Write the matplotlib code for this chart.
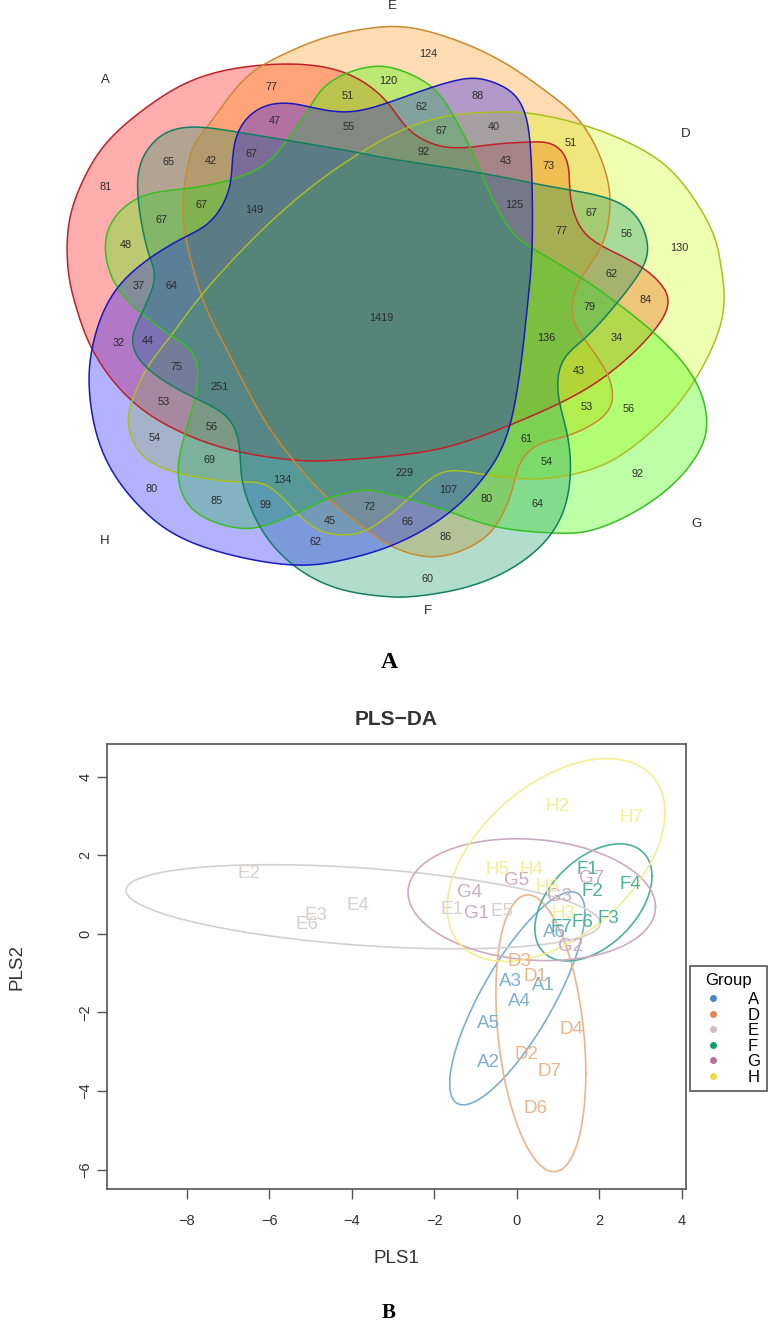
import numpy as np
import matplotlib
matplotlib.use('Agg')
import matplotlib.pyplot as plt
from matplotlib.path import Path
from matplotlib.patches import PathPatch
from matplotlib.lines import Line2D

plt.rcParams['font.family'] = ['Liberation Sans', 'DejaVu Sans']

# venn outlines (pixels)
outline_A = [(263,65),(343,72),(388,103),(407,128),(430,143),(457,148),(497,144),(530,142),(553,144),(567,160),(570,193),(580,227),(600,245),(643,268),(667,293),(668,307),(653,332),(607,375),(560,403),(510,425),(447,447),(380,457),(320,461),(293,460),(240,452),(185,434),(132,401),(92,349),(77,310),(70,283),(67,250),(70,217),(80,187),(103,147),(143,110),(193,80)]
outline_E = [(380,27),(413,28),(447,37),(480,50),(513,68),(547,92),(583,125),(607,177),(610,207),(602,245),(580,280),(572,303),(573,320),(585,340),(607,373),(613,395),(607,413),(567,436),(537,445),(520,463),(513,487),(495,527),(470,547),(433,557),(393,547),(367,530),(330,500),(293,460),(260,413),(227,350),(203,300),(185,233),(183,200),(193,147),(207,127),(237,87),(263,65),(293,50),(327,37)]
outline_D = [(497,112),(453,115),(407,128),(360,153),(287,207),(200,297),(170,337),(147,368),(132,401),(128,423),(140,453),(178,473),(242,482),(267,485),(297,513),(323,532),(347,535),(367,530),(408,499),(440,473),(463,471),(487,475),(513,478),(537,479),(570,475),(613,460),(653,430),(673,410),(695,380),(720,327),(724,290),(720,260),(713,233),(680,180),(643,150),(583,125),(527,113)]
outline_G = [(377,66),(347,73),(323,88),(310,107),(287,140),(267,163),(230,180),(183,189),(138,198),(107,233),(117,287),(150,320),(170,335),(193,353),(198,377),(195,398),(185,434),(178,473),(193,510),(237,528),(260,527),(297,513),(330,498),(363,490),(380,492),(408,499),(450,512),(497,527),(553,533),(593,530),(663,493),(700,450),(707,423),(695,380),(653,332),(617,303),(580,277),(532,248),(513,233),(493,200),(480,170),(470,147),(453,115),(432,87),(400,70)]
outline_F = [(197,127),(167,132),(143,157),(138,197),(150,258),(155,277),(140,317),(132,343),(147,368),(195,398),(230,420),(240,452),(242,480),(260,527),(293,565),(343,590),(393,597),(407,597),(480,583),(552,533),(570,480),(567,433),(558,393),(563,360),(583,340),(617,303),(643,267),(648,247),(637,217),(610,199),(570,190),(532,183),(480,173),(380,157),(360,153),(237,132)]
outline_H = [(472,78),(433,87),(387,103),(347,112),(310,107),(287,103),(260,108),(238,132),(232,167),(228,193),(210,222),(185,237),(150,258),(118,287),(100,320),(92,349),(89,383),(103,453),(143,510),(193,543),(293,565),(343,560),(393,545),(450,512),(487,473),(510,425),(527,310),(532,250),(532,183),(530,142),(525,113),(513,93),(493,82)]

venn_names = ['A', 'E', 'D', 'G', 'F', 'H']
venn_label_x = [105, 392, 686, 697, 428, 105]
venn_label_y = [80, 6, 134, 524, 611, 541]

venn_counts = [77,51,120,47,55,65,42,67,81,67,149,67,48,37,64,
               124,88,62,67,40,92,43,73,51,125,67,77,56,130,62,84,79,
               1419,32,44,75,251,53,56,54,69,134,80,85,99,72,45,62,
               136,34,43,53,56,61,54,92,229,107,80,64,66,86,60]
count_x = [272,348,388,275,349,169,211,251,106,202,254,162,126,139,171,
           428,478,421,441,494,424,506,549,571,514,591,562,627,679,611,646,589,
           381,119,148,177,220,164,212,155,209,282,152,217,266,369,330,316,
           546,617,579,587,629,527,547,637,404,448,487,538,407,446,427]
count_y = [87,96,81,121,127,162,161,154,187,205,210,220,245,286,286,
           54,96,107,131,127,152,161,166,143,205,213,231,234,248,274,300,307,
           318,343,341,367,387,402,427,438,460,480,489,501,505,507,521,542,
           338,338,371,407,409,439,462,474,473,490,499,504,522,537,579]

# PLS-DA scores
sample_names = ['A1','A2','A3','A4','A5','A6','D1','D2','D3','D4','D6','D7',
                'E1','E2','E3','E4','E5','E6','F1','F2','F3','F4','F6','F7',
                'G1','G2','G3','G4','G5','G7','H2','H3','H4','H5','H6','H7']
pls1 = [.65,-.68,-.17,.05,-.70,.92,.44,.24,.07,1.33,.46,.80,
        -1.58,-6.50,-4.87,-3.85,-.36,-5.09,1.70,1.82,2.21,2.74,1.58,1.09,
        -.97,1.31,1.04,-1.16,0,1.82,.99,1.12,.36,-.46,.73,2.79]
pls2 = [-1.32,-3.26,-1.22,-1.73,-2.29,.03,-1.09,-3.08,-.71,-2.42,-4.45,-3.51,
        .61,1.53,.48,.71,.56,.23,1.63,1.07,.38,1.25,.28,.15,
        .53,-.33,.94,1.04,1.35,1.40,3.23,.53,1.65,1.63,1.17,2.95]

groups = ['A', 'D', 'E', 'F', 'G', 'H']
group_colors = ['#7ab0d0', '#ecb48c', '#d6cfcf', '#4db09a', '#cdaac2', '#f3ee92']
legend_colors = ['#4a86c0', '#e08850', '#d8b8c0', '#10a070', '#b87098', '#e8e040']

# ellipse centre, half ranges and correlation per group
ell_cx = [.01, .58, -3.73, 1.855, .36, .95]
ell_cy = [-1.64, -2.53, .69, .80, .87, 1.88]
ell_ex = [1.64, 1.09, 5.75, 1.42, 3.0, 2.64]
ell_ey = [2.71, 3.52, 1.07, 1.49, 1.55, 2.58]
ell_rho = [.80, -.29, -.39, .45, -.12, .47]


def smooth_closed(points):
    # periodic cubic spline through the points, then a light gaussian to take out reading noise
    pts = np.array(points, dtype=float)
    n = len(pts)
    h = np.sqrt(np.hypot(*(np.roll(pts, -1, axis=0) - pts).T))
    A = np.zeros((n, n))
    rhs = np.zeros((n, 2))
    for i in range(n):
        hp = h[i - 1]
        hi = h[i]
        A[i, (i - 1) % n] += hp
        A[i, i] += 2 * (hp + hi)
        A[i, (i + 1) % n] += hi
        rhs[i] = 6 * ((pts[(i + 1) % n] - pts[i]) / hi - (pts[i] - pts[i - 1]) / hp)
    m = np.linalg.solve(A, rhs)
    samples = []
    for i in range(n):
        j = (i + 1) % n
        u = np.linspace(0, 1, 30, endpoint=False)[:, None]
        a = 1 - u
        samples.append(a * pts[i] + u * pts[j]
                       + ((a ** 3 - a) * m[i] + (u ** 3 - u) * m[j]) * h[i] ** 2 / 6)
    curve = np.vstack(samples)
    seg = np.hypot(*(np.roll(curve, -1, axis=0) - curve).T)
    s = np.concatenate([[0], np.cumsum(seg)])
    total = s[-1]
    grid = np.arange(0, total, 1.0)
    closed = np.vstack([curve, curve[0]])
    xs = np.interp(grid, s, closed[:, 0])
    ys = np.interp(grid, s, closed[:, 1])
    freq = np.fft.fftfreq(len(grid), 1.0)
    kernel = np.exp(-2 * (np.pi * freq * 6.0) ** 2)
    xs = np.fft.ifft(np.fft.fft(xs) * kernel).real
    ys = np.fft.ifft(np.fft.fft(ys) * kernel).real
    verts = np.column_stack([np.append(xs, xs[0]), np.append(ys, ys[0])])
    return Path(verts, closed=True)


fig = plt.figure(figsize=(7.77, 13.22), dpi=100)
ax = fig.add_axes([0, 0, 1, 1])
ax.set_xlim(0, 777)
ax.set_ylim(1322, 0)
ax.axis('off')

shapes = [
    (outline_A, (1.0, 0.0, 0.0, 0.32), '#c02028'),
    (outline_E, (1.0, 0.55, 0.0, 0.30), '#c88a30'),
    (outline_D, (0.80, 1.0, 0.0, 0.30), '#a8c020'),
    (outline_G, (0.25, 1.0, 0.0, 0.35), '#38c020'),
    (outline_F, (0.0, 0.55, 0.35, 0.30), '#108060'),
    (outline_H, (0.0, 0.0, 1.0, 0.30), '#1818c0'),
]
for outline, fill, edge in shapes:
    ax.add_patch(PathPatch(smooth_closed(outline), facecolor=fill, edgecolor='none'))
for outline, fill, edge in shapes:
    ax.add_patch(PathPatch(smooth_closed(outline), facecolor='none', edgecolor=edge, linewidth=1.1))

for x, y, c in zip(count_x, count_y, venn_counts):
    ax.text(x, y, str(c), ha='center', va='center', fontsize=7.8, color='#2a2a2a')
for x, y, name in zip(venn_label_x, venn_label_y, venn_names):
    ax.text(x, y, name, ha='center', va='center', fontsize=9.5, color='#2a2a2a')

ax.text(389, 662, 'A', ha='center', va='center', fontsize=17, fontweight='bold', family='Liberation Serif')
ax.text(389, 1313, 'B', ha='center', va='center', fontsize=15, fontweight='bold', family='Liberation Serif')

# PLS-DA panel
ax2 = fig.add_axes([107 / 777, 1 - 1189 / 1322, (686 - 107) / 777, (1189 - 744) / 1322])
ax2.set_xlim(-9.94, 4.1)
ax2.set_ylim(-6.49, 4.83)

t = np.linspace(0, 2 * np.pi, 200)
for i, g in enumerate(groups):
    ex_x = ell_cx[i] + ell_ex[i] * np.cos(t)
    ex_y = ell_cy[i] + ell_ey[i] * (ell_rho[i] * np.cos(t) + np.sqrt(1 - ell_rho[i] ** 2) * np.sin(t))
    ax2.plot(ex_x, ex_y, color=group_colors[i], linewidth=1.2)

for name, x, y in zip(sample_names, pls1, pls2):
    c = group_colors[groups.index(name[0])]
    ax2.text(x, y, name, color=c, fontsize=13.5, ha='center', va='center')

ax2.set_xticks([-8, -6, -4, -2, 0, 2, 4])
ax2.set_yticks([-6, -4, -2, 0, 2, 4])
ax2.tick_params(axis='both', length=7, width=1, color='#555555', labelcolor='#333333', labelsize=10.5)
ax2.tick_params(axis='x', pad=11)
plt.setp(ax2.get_yticklabels(), rotation=90, va='center')
for s in ax2.spines.values():
    s.set_color('#555555')
    s.set_linewidth(1.2)
ax2.set_xlabel('PLS1', fontsize=13.5, color='#333333', labelpad=16)
ax2.set_ylabel('PLS2', fontsize=13.5, color='#333333', labelpad=38)
ax2.set_title('PLS\u2212DA', fontsize=15, fontweight='bold', color='#333333', pad=14)

handles = [Line2D([], [], linestyle='none', marker='o', markersize=4, color=c) for c in legend_colors]
leg = fig.legend(handles, groups, title='Group', loc='upper left',
                 bbox_to_anchor=(690 / 777, 1 - 966 / 1322), bbox_transform=fig.transFigure,
                 borderaxespad=0, fontsize=12, title_fontsize=12, labelspacing=0.03,
                 handletextpad=1.05, borderpad=0.4, fancybox=False, edgecolor='#555555', framealpha=1)
leg._legend_box.sep = 3.3
leg.get_frame().set_linewidth(1.2)

fig.savefig('out.png', dpi=100)
